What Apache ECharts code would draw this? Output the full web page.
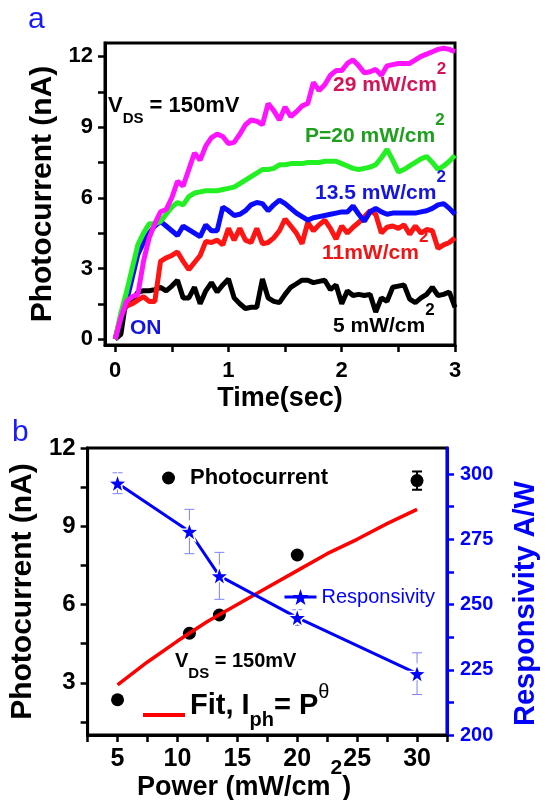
<!DOCTYPE html>
<html>
<head>
<meta charset="utf-8">
<script src="https://cdn.jsdelivr.net/npm/echarts@6.0.0/dist/echarts.min.js"></script>
<style>html,body{margin:0;padding:0;background:#fff}#chart{width:555px;height:800px}</style>
</head>
<body>
<div id="chart"></div>
<script>
var FONT = '"Liberation Sans", Arial, sans-serif';

// panel a: photocurrent vs time for each light power
var time = [0,0.05,0.1,0.15,0.2,0.25,0.3,0.35,0.4,0.45,0.5,0.55,0.6,0.65,0.7,0.75,0.8,0.85,0.9,0.95,
  1,1.05,1.1,1.15,1.2,1.25,1.3,1.35,1.4,1.45,1.5,1.55,1.6,1.65,1.7,1.75,1.8,1.85,1.9,1.95,
  2,2.05,2.1,2.15,2.2,2.25,2.3,2.35,2.4,2.45,2.5,2.55,2.6,2.65,2.7,2.75,2.8,2.85,2.9,2.95,3];
var p5 = [0,0.2,1.8,1.6,2.0,2.05,2.05,2.1,2.2,2.05,2.25,2.5,1.75,1.75,2.2,1.5,2.05,2.4,2.0,2.3,
  2.55,1.75,1.5,1.3,1.35,1.35,2.55,1.75,1.6,1.55,1.9,2.2,2.35,2.5,2.5,2.4,2.45,2.5,2.1,2.3,
  1.5,2.05,1.85,1.9,1.85,1.9,1.15,1.75,1.6,2.2,2.25,2.3,1.7,1.55,1.75,1.9,2.2,1.85,1.9,2.0,1.35];
var p11 = [0,1.0,1.4,1.5,1.65,1.8,1.6,1.6,3.3,3.45,3.55,3.7,3.3,2.95,3.25,3.55,4.15,4.1,4.2,4.0,
  4.7,4.2,4.7,4.2,4.1,4.7,4.05,4.1,4.3,4.6,5.1,4.8,4.5,4.05,4.95,4.6,4.85,5.05,4.7,4.25,
  4.8,4.5,4.75,4.95,5.2,5.45,5.3,4.5,4.75,4.8,4.7,4.85,4.45,4.8,4.5,4.65,4.6,3.85,4.0,4.1,4.3];
var p13 = [0,0.9,1.6,2.6,3.6,4.1,4.5,4.8,5.0,4.8,4.6,4.4,4.8,4.65,4.5,4.35,4.85,4.6,4.6,5.6,
  5.45,5.25,5.3,5.45,5.7,5.8,5.75,5.45,5.7,5.9,5.75,5.55,5.35,5.2,5.05,5.15,5.2,5.25,5.3,5.35,
  5.4,5.4,5.65,5.3,5.0,5.4,5.55,5.4,5.3,5.35,5.35,5.35,5.35,5.35,5.4,5.45,5.55,5.7,5.75,5.55,5.3];
var p20 = [0,1.1,2.0,3.0,4.0,4.5,4.9,4.9,5.0,5.3,5.6,5.8,5.7,6.05,6.2,6.25,6.3,6.3,6.3,6.35,
  6.4,6.45,6.6,6.75,6.9,7.05,7.2,7.2,7.25,7.4,7.4,7.45,7.45,7.45,7.5,7.5,7.5,7.55,7.55,7.55,
  7.45,7.35,7.25,7.2,7.25,7.3,7.4,7.7,8.05,7.6,7.1,7.2,7.35,7.5,7.65,7.75,7.5,7.2,7.35,7.55,7.8];
var p29 = [0,0.9,1.6,1.8,1.9,3.3,4.3,4.9,5.4,5.5,6.0,6.7,6.5,7.2,7.9,7.6,8.2,8.55,8.7,8.6,
  8.3,8.35,8.7,9.1,9.3,9.25,9.1,10.0,9.7,9.3,9.85,9.45,9.65,9.9,10.0,10.9,10.55,10.8,11.2,11.4,
  11.4,11.7,11.85,11.6,11.3,11.35,11.45,11.2,11.6,11.65,11.7,11.7,11.7,11.85,12.0,12.1,12.2,12.3,12.35,12.3,12.2];
var timeTicks = [0,0.5,1,1.5,2,2.5,3];
var timeLabels = [0,1,2,3];
var curTicksA = [0,1.5,3,4.5,6,7.5,9,10.5,12];
var curLabels = [0,3,6,9,12];

// panel b: photocurrent and responsivity vs power
var power = [5, 11, 13.5, 20, 30];
var photo = [2.35, 4.9, 5.6, 7.9, 10.75];
var photoErr = [0.1, 0.1, 0.1, 0.1, 0.35];
var resp = [296.5, 278, 261, 245, 223.5];
var respErr = [4, 8.5, 9, 3, 8];
var fitP = [5, 7.5, 10, 12.5, 15, 17.5, 20, 22.5, 25, 27.5, 30];
var fitI = [2.92, 3.8, 4.6, 5.35, 6.0, 6.65, 7.3, 7.95, 8.5, 9.1, 9.65];
var powerTicks = [2.5,5,7.5,10,12.5,15,17.5,20,22.5,25,27.5,30,32.5];
var powerLabels = [5,10,15,20,25,30];
var curTicksB = [1.5,3,4.5,6,7.5,9,10.5,12];
var curLabelsB = [3,6,9,12];
var respTicks = [200,212.5,225,237.5,250,262.5,275,287.5,300];
var respLabels = [200,225,250,275,300];

var STAR = 'path://M50,2 L61.8,35.6 L97.6,36.5 L69.1,58.3 L79.4,92.5 L50,72 L20.6,92.5 L30.9,58.3 L2.4,36.5 L38.2,35.6 Z';

function pairs(xs, ys) { return xs.map(function (x, i) { return [x, ys[i]]; }); }
function triples(xs, ys, es) { return xs.map(function (x, i) { return [x, ys[i], es[i]]; }); }

function errorBar(color, width, cap) {
  return function (params, api) {
    var x = api.value(0), y = api.value(1), e = api.value(2);
    var a = api.coord([x, y + e]), b = api.coord([x, y - e]);
    var st = {stroke: color, lineWidth: width};
    return {type: 'group', children: [
      {type: 'line', shape: {x1: a[0], y1: a[1], x2: b[0], y2: b[1]}, style: st},
      {type: 'line', shape: {x1: a[0] - cap, y1: a[1], x2: a[0] + cap, y2: a[1]}, style: st},
      {type: 'line', shape: {x1: b[0] - cap, y1: b[1], x2: b[0] + cap, y2: b[1]}, style: st}
    ]};
  };
}

function tickLabel(size, color) {
  return {fontSize: size, fontWeight: 'bold', color: color, fontFamily: FONT};
}

// text with a raised "2" (cm^2) at the end
function powerText(x, y, main, color) {
  return {
    type: 'text', x: x, y: y, z: 10,
    style: {
      text: '{m|' + main + '}{s|2}', align: 'left', verticalAlign: 'middle',
      rich: {
        m: {fontSize: 21, fontWeight: 'bold', fill: color, fontFamily: FONT, lineHeight: 48},
        s: {fontSize: 17, fontWeight: 'bold', fill: color, fontFamily: FONT, lineHeight: 17, verticalAlign: 'top'}
      }
    }
  };
}
function vdsText(x, y, size) {
  return {
    type: 'text', x: x, y: y, z: 10,
    style: {
      text: '{m|V}{d|DS}{m| = 150mV}', align: 'left', verticalAlign: 'middle',
      rich: {
        m: {fontSize: size, fontWeight: 'bold', fill: '#000', fontFamily: FONT, lineHeight: 40},
        d: {fontSize: 15, fontWeight: 'bold', fill: '#000', fontFamily: FONT, lineHeight: 15, verticalAlign: 'bottom'}
      }
    }
  };
}

var myChart = echarts.init(document.getElementById('chart'));
var option = {
  animation: false,
  backgroundColor: '#fff',
  grid: [
    {left: 105, top: 43, width: 350, height: 302, show: true, borderColor: '#000', borderWidth: 3},
    {left: 80, top: 448, width: 367, height: 287, show: true, borderColor: '#000', borderWidth: 3}
  ],
  xAxis: [
    {
      type: 'value', gridIndex: 0, min: -0.09, max: 3,
      axisLine: {onZero: false, lineStyle: {color: '#000', width: 3}},
      axisTick: {customValues: timeTicks, length: 7, lineStyle: {width: 2.5, color: '#000'}},
      axisLabel: Object.assign({customValues: timeLabels, margin: 15}, tickLabel(22, '#000')),
      splitLine: {show: false},
      name: 'Time(sec)', nameLocation: 'middle', nameGap: 40,
      nameTextStyle: {fontSize: 27, fontWeight: 'bold', color: '#000', fontFamily: FONT}
    },
    {
      type: 'value', gridIndex: 1, min: 2.5, max: 32.5,
      axisLine: {onZero: false, lineStyle: {color: '#000', width: 3}},
      axisTick: {customValues: powerTicks, length: 7, lineStyle: {width: 2.5, color: '#000'}},
      axisLabel: Object.assign({customValues: powerLabels, margin: 12}, tickLabel(25, '#000')),
      splitLine: {show: false}
    }
  ],
  yAxis: [
    {
      type: 'value', gridIndex: 0, min: -0.25, max: 12.57,
      axisLine: {show: true, onZero: false, lineStyle: {color: '#000', width: 3}},
      axisTick: {show: true, customValues: curTicksA, length: 7, lineStyle: {width: 2.5, color: '#000'}},
      axisLabel: Object.assign({customValues: curLabels, margin: 12}, tickLabel(22, '#000')),
      splitLine: {show: false},
      name: 'Photocurrent (nA)', nameLocation: 'middle', nameGap: 39,
      nameTextStyle: {fontSize: 30, fontWeight: 'bold', color: '#000', fontFamily: FONT}
    },
    {
      type: 'value', gridIndex: 1, min: 1, max: 12,
      axisLine: {show: true, onZero: false, lineStyle: {color: '#000', width: 3}},
      axisTick: {show: true, customValues: curTicksB, length: 7, lineStyle: {width: 2.5, color: '#000'}},
      axisLabel: Object.assign({customValues: curLabelsB, margin: 12}, tickLabel(24, '#000')),
      splitLine: {show: false},
      name: 'Photocurrent (nA)', nameLocation: 'middle', nameGap: 44,
      nameTextStyle: {fontSize: 30, fontWeight: 'bold', color: '#000', fontFamily: FONT}
    },
    {
      type: 'value', gridIndex: 1, position: 'right', min: 200, max: 310,
      axisLine: {show: true, onZero: false, lineStyle: {color: '#0000ff', width: 3}},
      axisTick: {show: true, customValues: respTicks, length: 7, lineStyle: {width: 2.5, color: '#0000ff'}},
      axisLabel: Object.assign({customValues: respLabels, margin: 13}, tickLabel(20, '#0000ff')),
      splitLine: {show: false},
      name: 'Responsivity A/W', nameLocation: 'middle', nameGap: 64,
      nameTextStyle: {fontSize: 29, fontWeight: 'bold', color: '#0000ff', fontFamily: FONT, padding: [0, 24, 0, 0]}
    }
  ],
  legend: [
    {
      data: ['Photocurrent'], left: 162, top: 467, padding: 0, selectedMode: false,
      itemWidth: 13, itemHeight: 13,
      textStyle: {fontSize: 22, fontWeight: 'bold', color: '#000', fontFamily: FONT, padding: [0, 0, 0, 10]}
    },
    {
      data: ['Responsivity'], left: 283, top: 587, padding: 0, selectedMode: false,
      itemWidth: 32, itemHeight: 20,
      lineStyle: {width: 3, color: '#0000ff'},
      itemStyle: {borderWidth: 0},
      textStyle: {fontSize: 20, color: '#0000ff', fontFamily: FONT}
    },
    {
      data: [{name: 'Fit', icon: 'rect'}], left: 143, top: 682, padding: 0, selectedMode: false,
      itemWidth: 42, itemHeight: 4,
      formatter: function () { return '{m|Fit, I}{b|ph}{m|= P}{t|θ}'; },
      textStyle: {
        padding: [0, 0, 18, 0],
        rich: {
          m: {fontSize: 29, fontWeight: 'bold', color: '#000', fontFamily: FONT, lineHeight: 48},
          b: {fontSize: 20, fontWeight: 'bold', color: '#000', fontFamily: FONT, lineHeight: 20, verticalAlign: 'bottom'},
          t: {fontSize: 20, color: '#000', fontFamily: FONT, lineHeight: 20, verticalAlign: 'top'}
        }
      }
    }
  ],
  series: [
    {name: '5 mW/cm2', type: 'line', xAxisIndex: 0, yAxisIndex: 0, data: pairs(time, p5), showSymbol: false, lineStyle: {color: '#000000', width: 5}, itemStyle: {color: '#000000'}},
    {name: '11 mW/cm2', type: 'line', xAxisIndex: 0, yAxisIndex: 0, data: pairs(time, p11), showSymbol: false, lineStyle: {color: '#ff1414', width: 5}, itemStyle: {color: '#ff1414'}},
    {name: '13.5 mW/cm2', type: 'line', xAxisIndex: 0, yAxisIndex: 0, data: pairs(time, p13), showSymbol: false, lineStyle: {color: '#0a0aff', width: 5}, itemStyle: {color: '#0a0aff'}},
    {name: '20 mW/cm2', type: 'line', xAxisIndex: 0, yAxisIndex: 0, data: pairs(time, p20), showSymbol: false, lineStyle: {color: '#22f022', width: 5}, itemStyle: {color: '#22f022'}},
    {name: '29 mW/cm2', type: 'line', xAxisIndex: 0, yAxisIndex: 0, data: pairs(time, p29), showSymbol: false, lineStyle: {color: '#ff14ff', width: 5}, itemStyle: {color: '#ff14ff'}},

    {name: 'Fit', type: 'line', xAxisIndex: 1, yAxisIndex: 1, data: pairs(fitP, fitI), symbol: 'none', lineStyle: {color: '#ff0000', width: 3.5}, itemStyle: {color: '#ff0000'}},
    {name: 'respErr', type: 'custom', xAxisIndex: 1, yAxisIndex: 2, data: triples(power, resp, respErr), renderItem: errorBar('#8080ff', 1, 5)},
    {name: 'Responsivity', type: 'line', xAxisIndex: 1, yAxisIndex: 2, data: pairs(power, resp), symbol: STAR, symbolSize: 19,
      lineStyle: {color: '#0000ff', width: 3}, itemStyle: {color: '#0000ff', borderColor: '#fff', borderWidth: 1.5}},
    {name: 'photoErr', type: 'custom', xAxisIndex: 1, yAxisIndex: 1, data: triples(power, photo, photoErr), renderItem: errorBar('#000', 2, 5)},
    {name: 'Photocurrent', type: 'scatter', xAxisIndex: 1, yAxisIndex: 1, data: pairs(power, photo), symbolSize: 13, itemStyle: {color: '#000', opacity: 1}}
  ],
  graphic: [
    {type: 'text', x: 28, y: 20, style: {text: 'a', fontSize: 30, fill: '#1a1aff', fontFamily: FONT, align: 'left', verticalAlign: 'middle'}},
    {type: 'text', x: 12, y: 433, style: {text: 'b', fontSize: 30, fill: '#1a1aff', fontFamily: FONT, align: 'left', verticalAlign: 'middle'}},
    vdsText(108, 106, 22),
    powerText(333, 85, '29 mW/cm', '#d4145a'),
    powerText(305, 136, 'P=20 mW/cm', '#1ea01e'),
    powerText(315, 193, '13.5 mW/cm', '#1515e0'),
    powerText(322, 253, '11mW/cm', '#f01414'),
    powerText(333, 326, '5 mW/cm', '#000'),
    {type: 'text', x: 130, y: 328, z: 10, style: {text: 'ON', fontSize: 21, fontWeight: 'bold', fill: '#1515e0', fontFamily: FONT, align: 'left', verticalAlign: 'middle'}},
    vdsText(175, 661, 20),
    {
      type: 'text', x: 137, y: 788, z: 10,
      style: {
        text: '{m|Power (mW/cm}{s|2}{m|)}', align: 'left', verticalAlign: 'middle',
        rich: {
          m: {fontSize: 27, fontWeight: 'bold', fill: '#000', fontFamily: FONT, lineHeight: 60},
          s: {fontSize: 21, fontWeight: 'bold', fill: '#000', fontFamily: FONT, lineHeight: 21, verticalAlign: 'top'}
        }
      }
    }
  ]
};
myChart.setOption(option);
</script>
</body>
</html>
